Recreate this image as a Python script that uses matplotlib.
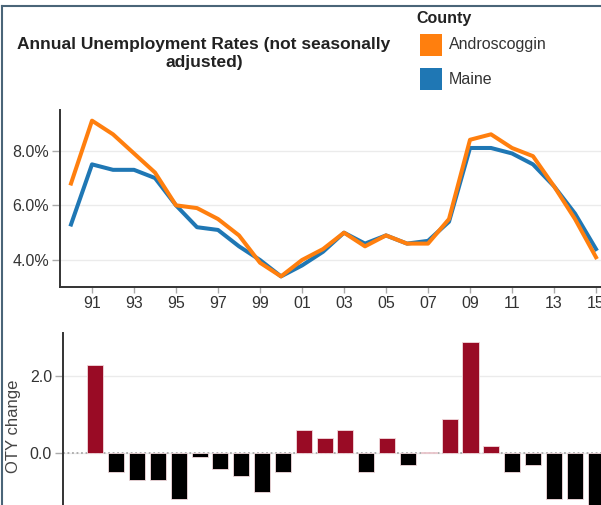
import matplotlib
matplotlib.use("Agg")
import matplotlib.pyplot as plt
from matplotlib.patches import Rectangle
from matplotlib.lines import Line2D

plt.rcParams["font.family"] = ["Liberation Sans", "DejaVu Sans"]

# 年度失业率(未季调)
years = [1990, 1991, 1992, 1993, 1994, 1995, 1996, 1997, 1998, 1999, 2000, 2001, 2002,
         2003, 2004, 2005, 2006, 2007, 2008, 2009, 2010, 2011, 2012, 2013, 2014, 2015]
andro = [6.8, 9.1, 8.6, 7.9, 7.2, 6.0, 5.9, 5.5, 4.9, 3.9, 3.4, 4.0, 4.4,
         5.0, 4.5, 4.9, 4.6, 4.6, 5.5, 8.4, 8.6, 8.1, 7.8, 6.7, 5.5, 4.1]
maine = [5.3, 7.5, 7.3, 7.3, 7.0, 6.0, 5.2, 5.1, 4.5, 4.0, 3.4, 3.8, 4.3,
         5.0, 4.6, 4.9, 4.6, 4.7, 5.4, 8.1, 8.1, 7.9, 7.5, 6.7, 5.7, 4.4]
top_ticks = [1991, 1993, 1995, 1997, 1999, 2001, 2003, 2005, 2007, 2009, 2011, 2013, 2015]
top_tick_labels = ["91", "93", "95", "97", "99", "01", "03", "05", "07", "09", "11", "13", "15"]

# 同比变化(Androscoggin)
oty_years = years[1:]
oty = [2.3, -0.5, -0.7, -0.7, -1.2, -0.1, -0.4, -0.6, -1.0, -0.5, 0.6, 0.4, 0.6,
       -0.5, 0.4, -0.3, 0.04, 0.9, 2.9, 0.2, -0.5, -0.3, -1.2, -1.2, -1.4]

ORANGE = "#ff7f0e"
BLUE = "#1f77b4"
RED = "#990b25"
TXT = "#333333"
W, H = 601, 505

fig = plt.figure(figsize=(W / 100, H / 100), dpi=100)


def box(x0, y0, x1, y1):
    """像素坐标(左上原点) -> figure坐标 [l, b, w, h]"""
    return [x0 / W, 1 - y1 / H, (x1 - x0) / W, (y1 - y0) / H]


# ---- 折线图 ----
ax1 = fig.add_axes(box(60, 110, 601, 286.5))
ax1.plot(years, maine, color=BLUE, lw=2.9, solid_joinstyle="round", zorder=3)
ax1.plot(years, andro, color=ORANGE, lw=2.9, solid_joinstyle="round", zorder=4)
ax1.set_xlim(1989.476, 2015.238)
ax1.set_ylim(3.03, 9.49)
ax1.set_yticks([4, 6, 8])
ax1.set_yticklabels(["4.0%", "6.0%", "8.0%"])
ax1.set_xticks(top_ticks)
ax1.set_xticklabels(top_tick_labels)
ax1.grid(axis="y", color="#ebebeb", lw=1)
ax1.set_axisbelow(True)
for s in ["top", "right"]:
    ax1.spines[s].set_visible(False)
for s in ["left", "bottom"]:
    ax1.spines[s].set_color("#333333")
    ax1.spines[s].set_linewidth(1.4)
ax1.tick_params(axis="y", length=6, width=1, color="#aaaaaa", labelsize=11.5,
                labelcolor=TXT, pad=2)
ax1.tick_params(axis="x", length=4, width=1, color="#aaaaaa", labelsize=11.5,
                labelcolor=TXT, pad=3)

# ---- 柱状图 ----
ax2 = fig.add_axes(box(63, 333, 601, 520))
bar_colors = [RED if v >= 0 else "black" for v in oty]
ax2.bar(oty_years, oty, width=0.77, color=bar_colors, edgecolor="#f2d9dd",
        linewidth=0.6, zorder=3)
ax2.axhline(0, color="#aaaaaa", lw=1.3, ls=(0, (1, 1.5)), zorder=2)
ax2.set_xlim(1989.448, 2015.26)
ax2.set_ylim(-1.74, 3.13)
ax2.set_yticks([0, 2])
ax2.set_yticklabels(["0.0", "2.0"])
ax2.set_xticks([])
ax2.grid(axis="y", color="#ebebeb", lw=1)
ax2.set_axisbelow(True)
for s in ["top", "right", "bottom"]:
    ax2.spines[s].set_visible(False)
ax2.spines["left"].set_color("#333333")
ax2.spines["left"].set_linewidth(1.4)
ax2.tick_params(axis="y", length=6, width=1, color="#aaaaaa", labelsize=11.5,
                labelcolor=TXT, pad=2)
ax2.set_ylabel("OTY change", fontsize=12, color="#444444", labelpad=6)

# ---- 标题与图例 ----
fig.text(204 / W, 1 - 53 / H, "Annual Unemployment Rates (not seasonally\nadjusted)",
         ha="center", va="center", fontsize=12.5, fontweight="bold",
         color="#222222", linespacing=1.25)
fig.text(416 / W, 1 - 19 / H, "County", ha="left", va="center", fontsize=11.5,
         fontweight="bold", color="#222222")
for label, c, yc in [("Androscoggin", ORANGE, 45), ("Maine", BLUE, 79)]:
    fig.patches.append(Rectangle((420 / W, 1 - (yc + 11) / H), 22 / W, 22 / H,
                                 transform=fig.transFigure, facecolor=c,
                                 edgecolor="none"))
    fig.text(449 / W, 1 - yc / H, label, ha="left", va="center", fontsize=11.5,
             color=TXT)

# 外框(左/上边线)
fig.add_artist(Line2D([2 / W, 2 / W], [0, 1 - 6 / H], transform=fig.transFigure,
                      color="#4a6578", lw=1.5))
fig.add_artist(Line2D([2 / W, 1], [1 - 6 / H, 1 - 6 / H], transform=fig.transFigure,
                      color="#4a6578", lw=1.5))

fig.savefig("out.png", dpi=100)
